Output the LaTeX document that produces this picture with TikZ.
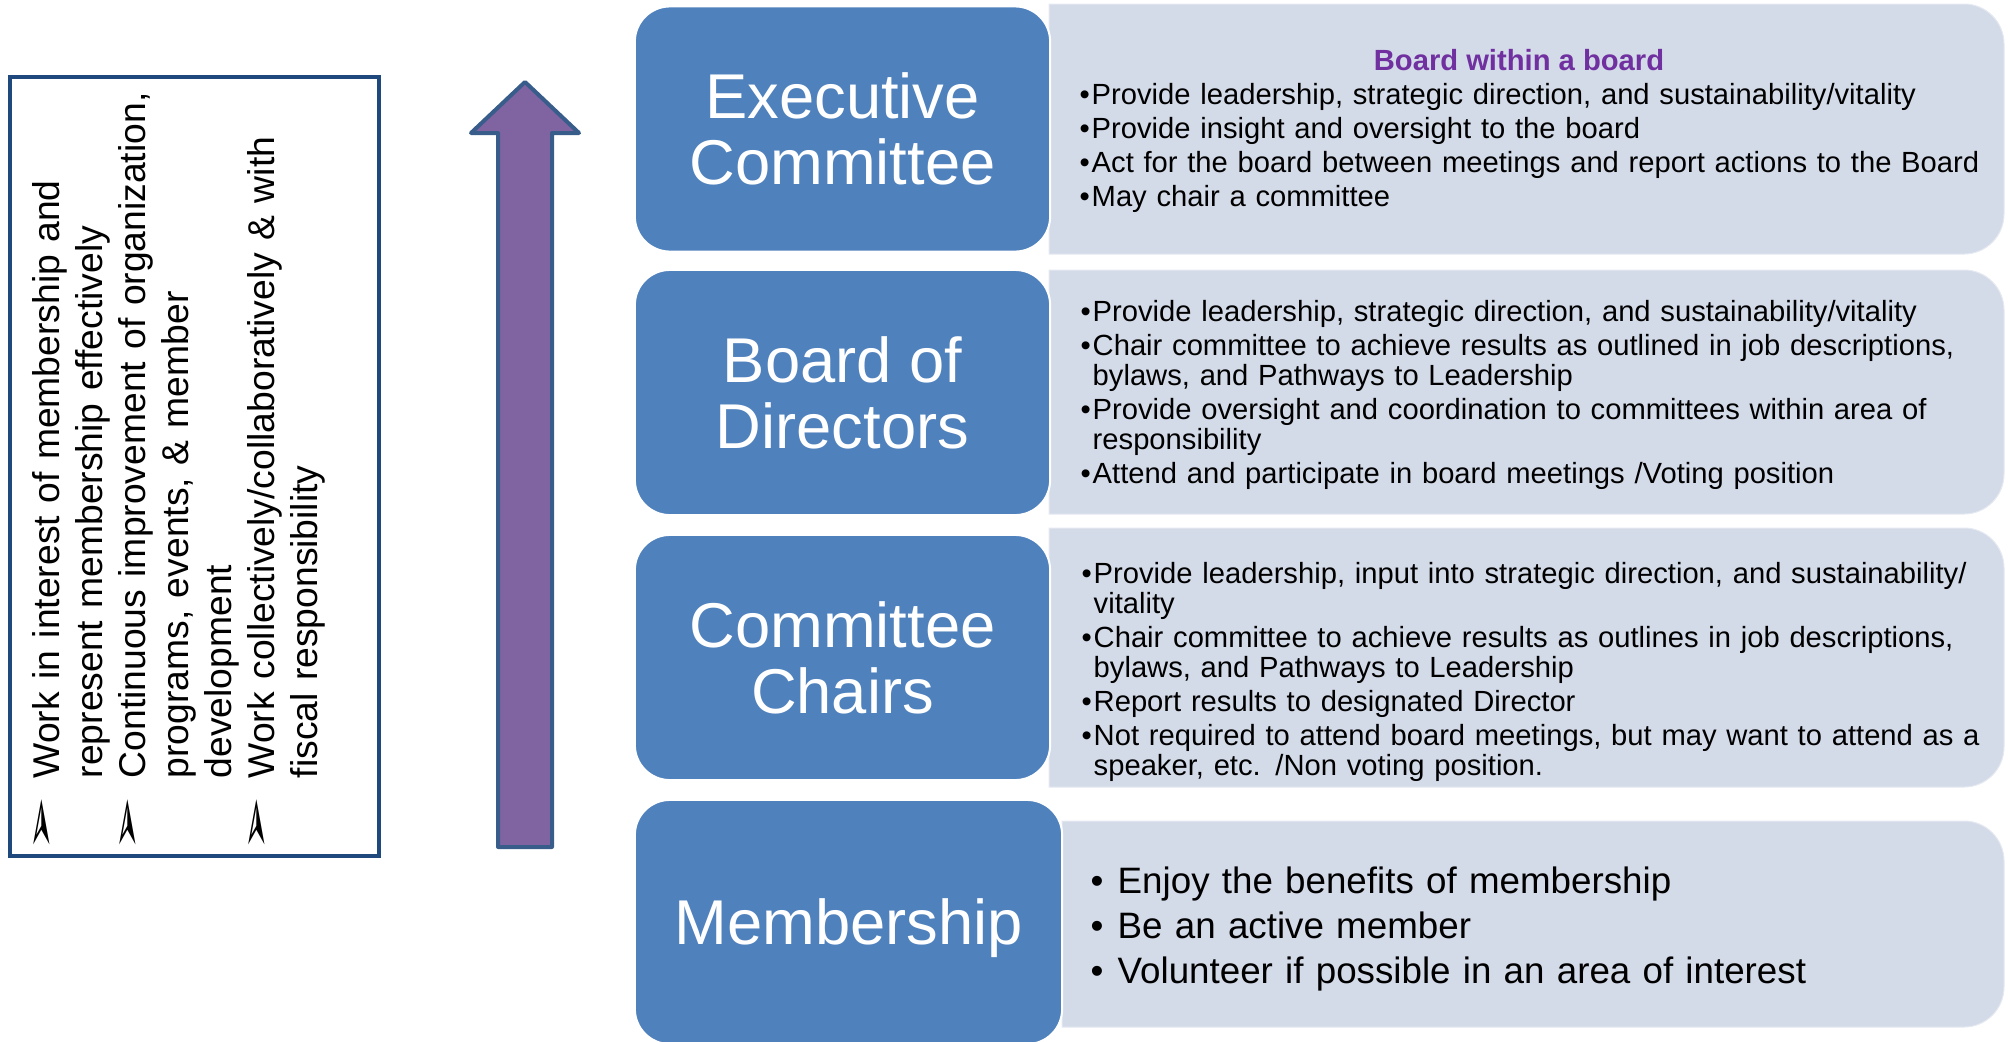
\documentclass[tikz,border=0pt]{standalone}
\usepackage{fontspec}
\setmainfont{Liberation Sans}
\newfontfamily\dingfont{DejaVu Sans}

\definecolor{tierblue}{HTML}{4F81BD}
\definecolor{panelgray}{HTML}{D3DAE8}
\definecolor{arrowpurple}{HTML}{8064A2}
\definecolor{edgeblue}{HTML}{385D8A}
\definecolor{framenavy}{HTML}{1F497D}
\definecolor{titlepurple}{HTML}{7030A0}

% bullet with hanging text, for the duty lists and the values frame
\newcommand{\duty}[1][0.12cm]{\par\leftskip=#1\noindent\llap{\makebox[#1][l]{\textbullet}}}
\newcommand{\goal}{\par\leftskip=0.63cm\noindent
	\llap{\makebox[0.63cm][l]{\hspace*{-0.11cm}\raisebox{0.16em}[0pt][0pt]{\scalebox{1.8}[1.0]{\dingfont ➢}}}}}

\begin{document}
\begin{tikzpicture}[x = 0.01cm, y = -0.01cm,
	tier/.style = {draw = white, line width = 0.02cm, fill = tierblue, rounded corners = 0.35cm,
		text = white, font = \fontsize{18}{18.8}\selectfont, align = center,
		minimum width = 4.15cm, minimum height = 2.45cm, inner sep = 0pt},
	panel/.style = {fill = panelgray, draw = panelgray!60!white, line width = 0.01cm},
	duties/.style = {anchor = north west, inner sep = 0pt, text width = 9.3cm, align = left,
		font = \fontsize{8.3}{8.55}\selectfont, execute at begin node = {\setlength{\parskip}{1.15pt}}}]

	\useasboundingbox (0, 0) rectangle (2008, 1042);

	% Values frame + rising arrow

	\draw [framenavy, line width = 0.045cm] (10, 77) rectangle (379, 856);

	\node [rotate = 90, anchor = north west, inner sep = 0pt, text width = 7.9cm, align = left,
		font = \fontsize{10.6}{12.2}\selectfont] (values) at (16, 842)
		{\goal Work in interest of membership and\\ represent membership effectively
		 \goal Continuous improvement of organization,\\ programs, events, \& member\\ development
		 \goal Work collectively/collaboratively \& with\\ fiscal responsibility\par};

	\draw [fill = arrowpurple, draw = edgeblue, line width = 0.04cm, line join = round]
		(498, 847) -- (498, 133) -- (471, 133) -- (525, 82) -- (579, 133) -- (552, 133) -- (552, 847) -- cycle;

	% Panels (rounded on the right only)

	\begin{scope}[panel]
	
		\filldraw (1049, 4) -- (1964, 4) arc [start angle = 90, end angle = 0, radius = 0.4cm]
			-- (2004, 214) arc [start angle = 0, end angle = -90, radius = 0.4cm] -- (1049, 254) -- cycle;
		\filldraw (1049, 270) -- (1964, 270) arc [start angle = 90, end angle = 0, radius = 0.4cm]
			-- (2004, 474) arc [start angle = 0, end angle = -90, radius = 0.4cm] -- (1049, 514) -- cycle;
		\filldraw (1049, 528) -- (1964, 528) arc [start angle = 90, end angle = 0, radius = 0.4cm]
			-- (2004, 747) arc [start angle = 0, end angle = -90, radius = 0.4cm] -- (1049, 787) -- cycle;
		\filldraw (1062, 821) -- (1964, 821) arc [start angle = 90, end angle = 0, radius = 0.4cm]
			-- (2004, 987) arc [start angle = 0, end angle = -90, radius = 0.4cm] -- (1062, 1027) -- cycle;
	
	\end{scope}

	% Tiers

	\node [tier] (exec) at (842.5, 129) {Executive\\Committee};
	\node [tier] (board) at (842.5, 392.5) {Board of\\Directors};
	\node [tier] (chairs) at (842.5, 657.5) {Committee\\Chairs};
	\node [tier, minimum width = 4.27cm, minimum height = 2.44cm, text depth = 0pt] (member) at (848.5, 922) {Membership};

	% Duties of each tier

	\node [anchor = base, font = \fontsize{8.3}{8.55}\selectfont\bfseries, text = titlepurple] (exectitle)
		at (1519, 70) {Board within a board};

	\node [duties] (execduties) at (1079, 69.5)
		{\duty Provide leadership, strategic direction, and sustainability/vitality
		 \duty Provide insight and oversight to the board
		 \duty Act for the board between meetings and report actions to the Board
		 \duty May chair a committee\par};

	\node [duties] (boardduties) at (1080, 286.5)
		{\duty Provide leadership, strategic direction, and sustainability/vitality
		 \duty Chair committee to achieve results as outlined in job descriptions,\\ bylaws, and Pathways to Leadership
		 \duty Provide oversight and coordination to committees within area of\\ responsibility
		 \duty Attend and participate in board meetings /Voting position\par};

	\node [duties] (chairsduties) at (1081, 548.5)
		{\duty Provide leadership, input into strategic direction, and sustainability/\\ vitality
		 \duty Chair committee to achieve results as outlines in job descriptions,\\ bylaws, and Pathways to Leadership
		 \duty Report results to designated Director
		 \duty Not required to attend board meetings, but may want to attend as a\\ speaker, etc. /Non voting position.\par};

	\node [duties, font = \fontsize{10.45}{12.8}\selectfont, execute at begin node = {\setlength{\parskip}{0pt}}]
		(memberduties) at (1090, 848)
		{\duty[0.27cm]Enjoy the benefits of membership
		 \duty[0.27cm]Be an active member
		 \duty[0.27cm]Volunteer if possible in an area of interest\par};

\end{tikzpicture}
\end{document}
